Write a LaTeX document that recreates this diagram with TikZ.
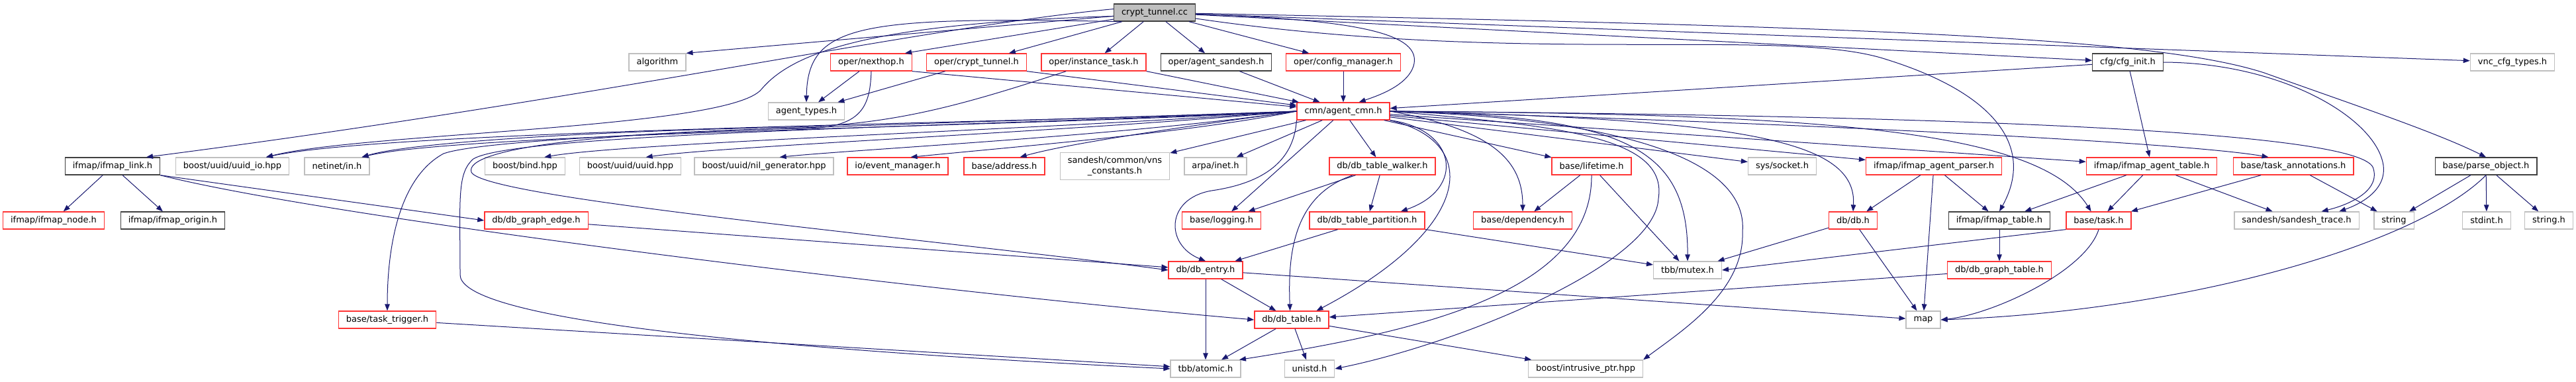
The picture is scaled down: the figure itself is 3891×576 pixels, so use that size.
\documentclass[tikz,border=0pt]{standalone}
\usepackage{fontspec}
\setmainfont{DejaVu Sans}
\usepackage{xcolor}
\usepackage{tikz}
\usetikzlibrary{arrows.meta}

\definecolor{edgeblue}{HTML}{191970}
\definecolor{hdrred}{HTML}{FF3333}
\definecolor{hdrgray}{HTML}{BFBFBF}
\definecolor{hdrblack}{HTML}{404040}

\begin{document}
\begin{tikzpicture}[x=1pt, y=-1pt,
    hdr/.style={draw, line width=1.3pt, fill=white, inner xsep=11.5pt, inner ysep=2pt,
      minimum height=26pt, font=\fontsize{13}{15.5}\selectfont},
    redhdr/.style={hdr, draw=hdrred},
    grayhdr/.style={hdr, draw=hdrgray},
    blackhdr/.style={hdr, draw=hdrblack},
    roothdr/.style={hdr, draw=hdrblack, fill=hdrgray},
    inc/.style={draw=edgeblue, line width=1pt, -{Triangle[length=10pt,width=7.5pt]}}]
    \path[fill=white, use as bounding box] (0,0) rectangle (3891,576);
    % --- row 0: the file itself ---
    \node[roothdr] (ct) at (1744,19) {crypt\_tunnel.cc};
    % --- row 1 ---
    \node[grayhdr] (alg) at (993,94) {algorithm};
    \node[redhdr] (nh) at (1316,94) {oper/nexthop.h};
    \node[redhdr] (cth) at (1475,94) {oper/crypt\_tunnel.h};
    \node[redhdr] (it) at (1652,94) {oper/instance\_task.h};
    \node[blackhdr] (as) at (1837,94) {oper/agent\_sandesh.h};
    \node[redhdr] (cm) at (2029,94) {oper/config\_manager.h};
    \node[blackhdr] (ci) at (3214,94) {cfg/cfg\_init.h};
    \node[grayhdr] (vct) at (3795,94) {vnc\_cfg\_types.h};
    % --- row 2 ---
    \node[grayhdr] (at) at (1218,168) {agent\_types.h};
    \node[redhdr] (ac) at (2029,168) {cmn/agent\_cmn.h};
    % --- row 3 ---
    \node[blackhdr] (il) at (170,251) {ifmap/ifmap\_link.h};
    \node[grayhdr] (uio) at (351,251) {boost/uuid/uuid\_io.hpp};
    \node[grayhdr] (nin) at (509,251) {netinet/in.h};
    \node[grayhdr] (bb) at (793,251) {boost/bind.hpp};
    \node[grayhdr] (uu) at (952,251) {boost/uuid/uuid.hpp};
    \node[grayhdr] (ng) at (1154,251) {boost/uuid/nil\_generator.hpp};
    \node[redhdr] (em) at (1356,251) {io/event\_manager.h};
    \node[redhdr] (ad) at (1517,251) {base/address.h};
    \node[grayhdr, align=center, inner ysep=4pt, minimum height=41pt] (vns) at (1684,251)
      {sandesh/common/vns\\\_constants.h};
    \node[grayhdr] (ai) at (1836,251) {arpa/inet.h};
    \node[redhdr] (dtw) at (2088,251) {db/db\_table\_walker.h};
    \node[redhdr] (lt) at (2404,251) {base/lifetime.h};
    \node[grayhdr] (ss) at (2692,251) {sys/socket.h};
    \node[redhdr] (iap) at (2921,251) {ifmap/ifmap\_agent\_parser.h};
    \node[redhdr] (iat) at (3250,251) {ifmap/ifmap\_agent\_table.h};
    \node[redhdr] (ta) at (3464,251) {base/task\_annotations.h};
    \node[blackhdr] (po) at (3755,251) {base/parse\_object.h};
    % --- row 4 ---
    \node[redhdr] (inode) at (81,333) {ifmap/ifmap\_node.h};
    \node[blackhdr] (iorig) at (261,333) {ifmap/ifmap\_origin.h};
    \node[redhdr] (dge) at (810,333) {db/db\_graph\_edge.h};
    \node[redhdr] (lg) at (1845,333) {base/logging.h};
    \node[redhdr] (dtp) at (2065,333) {db/db\_table\_partition.h};
    \node[redhdr] (dep) at (2300,333) {base/dependency.h};
    \node[redhdr] (db) at (2799,333) {db/db.h};
    \node[blackhdr] (itab) at (3020,333) {ifmap/ifmap\_table.h};
    \node[redhdr] (task) at (3170,333) {base/task.h};
    \node[grayhdr] (st) at (3469,333) {sandesh/sandesh\_trace.h};
    \node[grayhdr] (str) at (3616,333) {string};
    \node[grayhdr] (sti) at (3756,333) {stdint.h};
    \node[grayhdr] (strh) at (3850,333) {string.h};
    % --- rows 5 to 7 ---
    \node[redhdr] (de) at (1821,408) {db/db\_entry.h};
    \node[grayhdr] (mtx) at (2549,408) {tbb/mutex.h};
    \node[redhdr] (dgt) at (3020,408) {db/db\_graph\_table.h};
    \node[redhdr] (tt) at (585,483) {base/task\_trigger.h};
    \node[redhdr] (dt) at (1951,483) {db/db\_table.h};
    \node[grayhdr] (map) at (2905,483) {map};
    \node[grayhdr] (atm) at (1821,557) {tbb/atomic.h};
    \node[grayhdr] (uni) at (1978,557) {unistd.h};
    \node[grayhdr] (ip) at (2395,557) {boost/intrusive\_ptr.hpp};

    % --- includes of crypt_tunnel.cc ---
    \draw[inc] (ct) -- (alg.north east);
    \draw[inc] (ct.175) .. controls (1400,40) and (900,150) .. (il.15);
    \draw[inc] (ct.185) .. controls (1330,35) and (1200,75) .. (1150,135)
      .. controls (1100,195) and (550,200) .. (uio.15);
    \draw[inc] (ct.195) .. controls (1300,25) and (1220,35) .. (at.north);
    \draw[inc] (ct) -- (nh.15);
    \draw[inc] (ct) -- (cth);
    \draw[inc] (ct) -- (it);
    \draw[inc] (ct) -- (as);
    \draw[inc] (ct) -- (cm);
    \draw[inc] (ct) .. controls (2050,30) and (2150,50) .. (2135,100)
      .. controls (2125,130) and (2080,145) .. (ac.30);
    \draw[inc] (ct) -- (ci);
    \draw[inc] (ct) -- (vct);
    \draw[inc] (ct) .. controls (2800,40) and (3250,55) .. (3420,110)
      .. controls (3560,160) and (3680,200) .. (po.north);
    \draw[inc] (ct) .. controls (2300,100) and (2700,40) .. (2850,90)
      .. controls (3010,140) and (3075,220) .. (itab.north);
    % --- oper headers ---
    \draw[inc] (nh) -- (at);
    \draw[inc] (nh.south east) -- (ac);
    \draw[inc] (nh.south) .. controls (1314,165) and (1300,196) .. (1200,194)
      .. controls (900,200) and (700,225) .. (712,260)
      .. controls (730,300) and (1400,360) .. (de.west);
    \draw[inc] (cth) -- (at);
    \draw[inc] (cth.south east) -- (ac);
    \draw[inc] (it.south east) -- (ac);
    \draw[inc] (it) .. controls (1450,160) and (1350,188) .. (1200,192)
      .. controls (900,198) and (620,215) .. (nin.20);
    \draw[inc] (as) -- (ac);
    \draw[inc] (cm) -- (ac);
    % --- cfg/cfg_init.h ---
    \draw[inc] (ci) -- (ac);
    \draw[inc] (ci) -- (iat);
    \draw[inc] (ci.east) .. controls (3450,95) and (3590,180) .. (3600,250)
      .. controls (3605,290) and (3560,310) .. (st.12);
    % --- cmn/agent_cmn.h, to the left ---
    \draw[inc] (ac.west) .. controls (1600,185) and (600,195) .. (uio.15);
    \draw[inc] (ac.west) .. controls (1600,190) and (700,200) .. (nin.20);
    \draw[inc] (ac.west) .. controls (1600,195) and (950,215) .. (bb.25);
    \draw[inc] (ac.west) .. controls (1600,200) and (1100,220) .. (uu.30);
    \draw[inc] (ac.west) .. controls (1700,205) and (1300,225) .. (ng.30);
    \draw[inc] (ac.west) .. controls (1800,200) and (1550,220) .. (em.35);
    \draw[inc] (ac.west) .. controls (1800,190) and (1620,215) .. (ad.30);
    \draw[inc] (ac) -- (vns);
    \draw[inc] (ac) -- (ai);
    \draw[inc] (ac.west) .. controls (1500,185) and (760,200) .. (670,232)
      .. controls (600,270) and (585,380) .. (tt.north);
    \draw[inc] (ac.west) .. controls (1500,190) and (780,200) .. (715,240)
      .. controls (690,262) and (695,300) .. (695,415)
      .. controls (695,470) and (1000,520) .. (atm.west);
    \draw[inc] (ac) -- (lg);
    \draw[inc] (ac.south west) .. controls (1955,235) and (1920,275) .. (1830,288)
      .. controls (1760,300) and (1760,370) .. (de.north);
    % --- cmn/agent_cmn.h, to the right ---
    \draw[inc] (ac) -- (dtw);
    \draw[inc] (ac.south east) .. controls (2200,195) and (2215,285) .. (dtp.15);
    \draw[inc] (ac.south east) .. controls (2240,215) and (2225,345) .. (dt.20);
    \draw[inc] (ac.east) .. controls (2250,195) and (2300,240) .. (dep.north);
    \draw[inc] (ac) -- (lt);
    \draw[inc] (ac.east) .. controls (2350,190) and (2520,205) .. (2505,300)
      .. controls (2500,400) and (2200,520) .. (uni.east);
    \draw[inc] (ac.east) .. controls (2450,175) and (2550,220) .. (mtx.north);
    \draw[inc] (ac.east) .. controls (2480,180) and (2640,250) .. (2632,350)
      .. controls (2635,440) and (2540,500) .. (ip.north east);
    \draw[inc] (ac) -- (ss);
    \draw[inc] (ac.east) .. controls (2650,180) and (2805,215) .. (db.north);
    \draw[inc] (ac) -- (iap);
    \draw[inc] (ac.east) .. controls (2750,172) and (3080,195) .. (task.130);
    \draw[inc] (ac) -- (iat);
    \draw[inc] (ac.east) .. controls (2700,185) and (3300,215) .. (ta.160);
    \draw[inc] (ac.east) .. controls (3000,175) and (3575,200) .. (3585,255)
      .. controls (3595,290) and (3545,310) .. (st.20);
    % --- ifmap and db ---
    \draw[inc] (il) -- (inode);
    \draw[inc] (il) -- (iorig);
    \draw[inc] (il.south east) -- (dge.west);
    \draw[inc] (il.south east) .. controls (500,330) and (1400,440) .. (dt.west);
    \draw[inc] (dge) -- (de);
    \draw[inc] (de) -- (atm);
    \draw[inc] (de) -- (dt);
    \draw[inc] (de) -- (map);
    \draw[inc] (dt) -- (atm);
    \draw[inc] (dt) -- (uni);
    \draw[inc] (dt) -- (ip);
    \draw[inc] (tt) -- (atm);
    \draw[inc] (dtw) -- (dtp);
    \draw[inc] (dtw.197) .. controls (1955,295) and (1945,380) .. (dt.100);
    \draw[inc] (dtw) -- (lg);
    \draw[inc] (dtp) -- (de);
    \draw[inc] (dtp) -- (mtx);
    \draw[inc] (lt) -- (dep);
    \draw[inc] (lt) -- (mtx);
    \draw[inc] (lt.south) .. controls (2405,440) and (2150,500) .. (atm.15);
    \draw[inc] (iap) -- (db);
    \draw[inc] (iap) -- (map);
    \draw[inc] (iap) -- (itab);
    \draw[inc] (iat) -- (itab);
    \draw[inc] (iat) -- (task);
    \draw[inc] (iat) -- (st);
    \draw[inc] (ta) -- (task);
    \draw[inc] (ta) -- (str);
    \draw[inc] (po) -- (str);
    \draw[inc] (po) -- (sti);
    \draw[inc] (po) -- (strh);
    \draw[inc] (po.south) .. controls (3650,370) and (3300,470) .. (map.east);
    \draw[inc] (db) -- (mtx);
    \draw[inc] (db) -- (map);
    \draw[inc] (itab) -- (dgt);
    \draw[inc] (dgt) -- (dt);
    \draw[inc] (task.south west) -- (mtx.east);
    \draw[inc] (task.south) .. controls (3150,410) and (3010,475) .. (map.east);
\end{tikzpicture}
\end{document}
